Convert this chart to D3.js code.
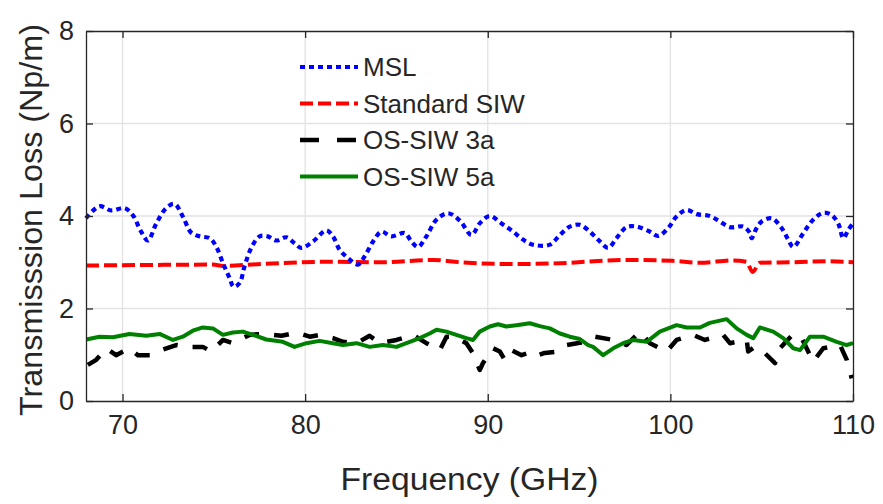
<!DOCTYPE html>
<html>
<head>
<meta charset="utf-8">
<script src="https://cdn.jsdelivr.net/npm/d3@7/dist/d3.min.js"></script>
<style>
  body { margin: 0; background: #fff; }
  text { font-family: "Liberation Sans", Arial, Helvetica, sans-serif; fill: #262626; }
</style>
</head>
<body>
<div id="canvas"></div>
<script>
const canvWidth = 883, canvHeight = 504;

// x ticks / y ticks
const xTicks = [70, 80, 90, 100, 110];
const yTicks = [0, 2, 4, 6, 8];

// MSL
const mslFreq = [68.0, 68.74, 69.38, 70.11, 70.56, 71.02, 71.39, 71.85, 72.39, 72.85, 73.3, 73.76, 74.22, 74.77, 75.13, 75.5, 75.86, 76.08, 76.41, 76.68, 77.05, 77.51, 77.96, 78.42, 78.97, 79.42, 79.79, 80.43, 81.16, 81.52, 81.89, 82.35, 82.89, 83.26, 83.72, 84.18, 84.72, 85.45, 85.82, 86.18, 86.64, 87.19, 87.82, 88.47, 89.11, 89.56, 90.11, 90.75, 91.39, 91.93, 92.48, 93.4, 93.95, 94.49, 95.04, 95.59, 96.14, 96.59, 97.05, 97.6, 98.15, 98.88, 99.33, 99.88, 100.34, 100.89, 101.44, 102.16, 102.71, 103.26, 103.99, 104.36, 104.45, 104.72, 105.0, 105.55, 106.09, 106.45, 106.73, 107.28, 107.82, 108.37, 108.83, 109.19, 109.47, 109.74, 110.0];
const mslLoss = [3.95, 4.21, 4.12, 4.17, 4.02, 3.66, 3.47, 3.84, 4.17, 4.26, 3.99, 3.64, 3.56, 3.52, 3.34, 2.98, 2.66, 2.47, 2.55, 2.91, 3.31, 3.56, 3.56, 3.47, 3.54, 3.41, 3.31, 3.45, 3.69, 3.56, 3.27, 3.09, 2.95, 3.13, 3.45, 3.66, 3.56, 3.63, 3.45, 3.33, 3.56, 3.92, 4.06, 3.9, 3.59, 3.84, 4.0, 3.84, 3.66, 3.49, 3.38, 3.38, 3.59, 3.77, 3.81, 3.66, 3.45, 3.31, 3.52, 3.76, 3.77, 3.66, 3.57, 3.74, 3.99, 4.13, 4.04, 4.0, 3.88, 3.76, 3.77, 3.63, 3.52, 3.74, 3.88, 3.95, 3.74, 3.49, 3.33, 3.63, 3.92, 4.07, 4.02, 3.84, 3.52, 3.7, 3.84];

// Standard SIW
const siwFreq = [68.0, 71.3, 74.95, 75.5, 77.1, 78.6, 81.3, 84.1, 87.0, 88.5, 91.57, 93.95, 97.6, 100.15, 101.6, 103.44, 104.17, 104.5, 104.9, 106.7, 108.56, 110.0];
const siwLoss = [2.93, 2.94, 2.95, 2.92, 2.95, 2.98, 3.01, 3.0, 3.05, 3.0, 2.96, 2.98, 3.05, 3.03, 2.99, 3.04, 3.01, 2.79, 2.99, 3.0, 3.02, 3.0];

// OS-SIW 3a
const os3Freq = [68.1, 68.56, 69.11, 69.65, 70.38, 70.84, 71.57, 72.12, 72.94, 73.58, 74.4, 74.86, 75.5, 76.04, 76.96, 77.69, 78.7, 79.52, 80.25, 80.79, 81.52, 82.07, 82.81, 83.53, 84.08, 85.0, 85.91, 86.64, 87.37, 87.74, 88.19, 88.83, 89.19, 89.56, 89.74, 90.29, 90.66, 90.93, 91.3, 91.85, 92.48, 92.76, 93.12, 93.85, 94.31, 95.04, 95.41, 95.86, 96.87, 97.6, 98.33, 98.88, 99.79, 100.34, 101.25, 101.89, 102.89, 103.26, 104.18, 104.26, 104.63, 105.0, 105.73, 106.0, 106.73, 107.19, 107.82, 108.37, 109.29, 109.66, 109.93];
const os3Loss = [0.78, 0.89, 1.14, 0.99, 1.14, 0.99, 0.99, 1.1, 1.21, 1.17, 1.17, 1.07, 1.32, 1.25, 1.43, 1.45, 1.41, 1.48, 1.39, 1.43, 1.36, 1.28, 1.25, 1.41, 1.25, 1.32, 1.43, 1.25, 1.1, 1.39, 1.39, 1.25, 1.03, 0.67, 0.82, 1.14, 1.07, 0.89, 1.1, 0.99, 1.07, 0.99, 1.04, 1.07, 1.21, 1.26, 1.28, 1.39, 1.32, 1.21, 1.5, 1.25, 1.07, 1.32, 1.43, 1.32, 1.43, 1.25, 1.32, 1.07, 1.17, 1.1, 0.82, 1.14, 1.45, 1.36, 0.85, 1.14, 1.21, 0.89, 0.49];

// OS-SIW 5a
const os5Freq = [68.01, 68.74, 69.47, 70.38, 71.3, 72.03, 72.76, 73.3, 73.85, 74.4, 74.95, 75.5, 76.04, 76.59, 77.14, 77.87, 78.78, 79.42, 80.07, 80.79, 81.52, 82.07, 82.81, 83.53, 84.26, 85.0, 85.73, 86.27, 86.82, 87.19, 87.74, 88.28, 88.83, 89.19, 89.56, 90.11, 90.56, 91.02, 91.57, 92.3, 92.85, 93.4, 93.95, 94.49, 95.04, 95.5, 95.77, 96.32, 96.87, 97.41, 97.96, 98.7, 99.42, 100.34, 100.89, 101.62, 102.16, 103.08, 103.63, 104.18, 104.54, 104.9, 105.63, 106.18, 106.73, 107.1, 107.64, 108.37, 109.11, 109.65, 110.0];
const os5Loss = [1.33, 1.39, 1.38, 1.45, 1.41, 1.45, 1.32, 1.39, 1.52, 1.59, 1.57, 1.43, 1.48, 1.5, 1.43, 1.33, 1.28, 1.17, 1.25, 1.3, 1.25, 1.21, 1.25, 1.17, 1.21, 1.17, 1.28, 1.36, 1.46, 1.54, 1.5, 1.43, 1.36, 1.32, 1.5, 1.61, 1.66, 1.61, 1.64, 1.68, 1.62, 1.57, 1.46, 1.39, 1.34, 1.21, 1.17, 0.99, 1.14, 1.25, 1.32, 1.28, 1.5, 1.64, 1.59, 1.59, 1.69, 1.77, 1.57, 1.43, 1.36, 1.59, 1.5, 1.36, 1.14, 1.1, 1.39, 1.39, 1.28, 1.21, 1.25];

const seriesNames = ["MSL", "Standard SIW", "OS-SIW 3a", "OS-SIW 5a"];

const svg = d3.select("#canvas").append("svg")
    .attr("width", canvWidth)
    .attr("height", canvHeight);

const margin = {top: 31, right: 30, bottom: 103, left: 86};
const width = canvWidth - margin.left - margin.right;
const height = canvHeight - margin.top - margin.bottom;

const g = svg.append("g")
    .attr("transform", "translate(" + margin.left + "," + margin.top + ")");

const x = d3.scaleLinear().domain([68, 110]).range([0, width]);
const y = d3.scaleLinear().domain([0, 8]).range([height, 0]);

// grid
g.append("g").selectAll("line")
    .data(xTicks.slice(0, -1))
    .enter().append("line")
    .attr("x1", d => x(d)).attr("x2", d => x(d))
    .attr("y1", 0).attr("y2", height)
    .attr("stroke", "#e2e2e2").attr("stroke-width", 1.3);

g.append("g").selectAll("line")
    .data(yTicks.slice(1, -1))
    .enter().append("line")
    .attr("x1", 0).attr("x2", width)
    .attr("y1", d => y(d)).attr("y2", d => y(d))
    .attr("stroke", "#e2e2e2").attr("stroke-width", 1.3);

// series
const series = [
    {name: seriesNames[0], f: mslFreq, v: mslLoss, color: "#0000ff", dash: "5,4", w: 4.2, curve: d3.curveCatmullRom},
    {name: seriesNames[1], f: siwFreq, v: siwLoss, color: "#ff0000", dash: "13,5", w: 4, curve: d3.curveMonotoneX},
    {name: seriesNames[2], f: os3Freq, v: os3Loss, color: "#000000", dash: "15,15", w: 4.5, curve: d3.curveLinear},
    {name: seriesNames[3], f: os5Freq, v: os5Loss, color: "#008000", dash: null, w: 4, curve: d3.curveLinear}
];

const plotArea = g.append("g");

// draw back to front like the reference (green on top of black)
[1, 0, 2, 3].forEach(function (i) {
    var s = series[i];
    var line = d3.line()
        .x(function (d, k) { return x(s.f[k]); })
        .y(function (d) { return y(d); })
        .curve(s.curve);
    plotArea.append("path")
        .attr("d", line(s.v))
        .attr("fill", "none")
        .attr("stroke", s.color)
        .attr("stroke-width", s.w)
        .attr("stroke-dasharray", s.dash)
        .attr("stroke-linejoin", "round");
});

// axes (ticks inside, box on)
const xAxis = d3.axisBottom(x).tickValues(xTicks).tickSizeInner(-7).tickSizeOuter(0).tickPadding(14);
const yAxis = d3.axisLeft(y).tickValues(yTicks).tickSizeInner(-7).tickSizeOuter(0).tickPadding(12);

const gx = g.append("g").attr("transform", "translate(0," + height + ")").call(xAxis);
const gy = g.append("g").call(yAxis);
g.append("g").call(d3.axisTop(x).tickValues(xTicks).tickSizeInner(-7).tickSizeOuter(0).tickFormat(""));
g.append("g").attr("transform", "translate(" + width + ",0)")
    .call(d3.axisRight(y).tickValues(yTicks).tickSizeInner(-7).tickSizeOuter(0).tickFormat(""));

g.selectAll(".domain").attr("stroke", "#262626").attr("stroke-width", 1.3);
g.selectAll(".tick line").attr("stroke", "#262626").attr("stroke-width", 1.3);
gx.selectAll("text").style("font-size", "27px").attr("fill", "#262626").attr("dy", "0.71em");
gy.selectAll("text").style("font-size", "27px").attr("fill", "#262626");

// axis titles
svg.append("text")
    .attr("x", margin.left + width / 2)
    .attr("y", 490)
    .attr("text-anchor", "middle")
    .style("font-size", "31px")
    .attr("textLength", 258)
    .attr("lengthAdjust", "spacingAndGlyphs")
    .text("Frequency (GHz)");

svg.append("text")
    .attr("transform", "translate(42," + (margin.top + height / 2 + 4) + ") rotate(-90)")
    .attr("text-anchor", "middle")
    .style("font-size", "31px")
    .attr("textLength", 392)
    .attr("lengthAdjust", "spacingAndGlyphs")
    .text("Transmisssion Loss (Np/m)");

// legend
const legend = svg.append("g").attr("transform", "translate(300,67)");
const leg = legend.selectAll("g")
    .data(series)
    .enter().append("g")
    .attr("transform", function (d, i) { return "translate(0," + i * 36.5 + ")"; });

leg.append("line")
    .attr("x1", 0).attr("x2", 58)
    .attr("stroke", d => d.color)
    .attr("stroke-width", d => d.w)
    .attr("stroke-dasharray", function (d, i) { return i === 2 ? "19,18" : d.dash; });

leg.append("text")
    .attr("x", 63)
    .attr("dy", "0.36em")
    .style("font-size", "26px")
    .text(d => d.name);
</script>
</body>
</html>
